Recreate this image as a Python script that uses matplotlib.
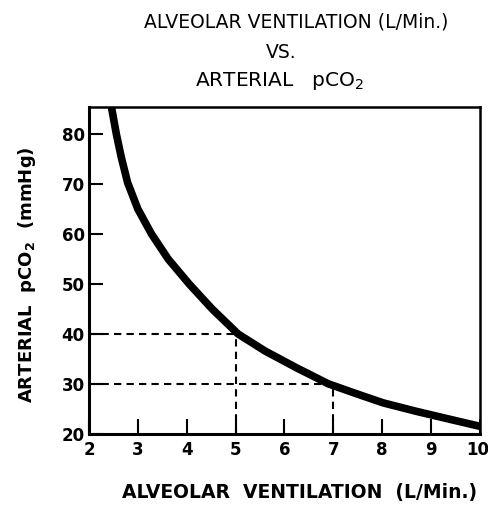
import numpy as np
import matplotlib.pyplot as plt
from matplotlib.transforms import ScaledTranslation

# values
ventilation = [2.46, 2.56, 2.66, 2.79, 3.00, 3.28, 3.62, 4.05, 4.52, 5.05,
               5.60, 6.25, 6.90, 7.54, 8.02, 8.70, 9.39, 10.0]
pco2 = [85.4, 80.0, 75.4, 70.3, 65.0, 60.0, 55.0, 50.0, 45.0, 40.0,
        36.6, 33.2, 30.0, 27.8, 26.2, 24.5, 22.9, 21.5]

ref_vent = [5, 7]
ref_pco2 = [40, 30]

x_ticks = [2, 3, 4, 5, 6, 7, 8, 9, 10]
y_ticks = [20, 30, 40, 50, 60, 70, 80]

title_lines = ["ALVEOLAR VENTILATION (L/Min.)", "VS.", "ARTERIAL   pCO$_2$"]
x_label = "ALVEOLAR  VENTILATION  (L/Min.)"
y_label = "ARTERIAL  pCO$_\\mathbf{2}$  (mmHg)"

fig = plt.figure(figsize=(4.89, 5.08), dpi=100)
ax = fig.add_axes([0.182, 0.146, 0.7995, 0.643])

ax.plot(ventilation, pco2, color="black", linewidth=5.5,
        solid_capstyle="butt", solid_joinstyle="round")

# dashed guide lines
for v, p in zip(ref_vent, ref_pco2):
    ax.plot([2, v], [p, p], color="black", linewidth=1.5, dashes=(3.5, 2.5))
    ax.plot([v, v], [20, p], color="black", linewidth=1.5, dashes=(3.5, 2.5))

ax.set_xlim(2, 10)
ax.set_ylim(20, 85.4)
ax.set_xticks(x_ticks)
ax.set_yticks(y_ticks)
ax.set_xticklabels([str(t) for t in x_ticks], fontsize=12, fontweight="bold")
ax.set_yticklabels([str(t) for t in y_ticks], fontsize=12, fontweight="bold")
ax.tick_params(axis="x", direction="in", length=11, width=1.5, pad=5)
ax.tick_params(axis="y", direction="in", length=10, width=1.5, pad=3)

last = ax.get_xticklabels()[-1]
last.set_horizontalalignment("right")
last.set_transform(last.get_transform() + ScaledTranslation(7 / 72, 0, fig.dpi_scale_trans))

for side in ["left", "bottom"]:
    ax.spines[side].set_linewidth(2.2)
for side in ["top", "right"]:
    ax.spines[side].set_linewidth(1.8)

fig.text(0.605, 0.945, title_lines[0], fontsize=13.5, ha="center", va="baseline")
fig.text(0.575, 0.886, title_lines[1], fontsize=13.5, ha="center", va="baseline")
fig.text(0.572, 0.831, title_lines[2], fontsize=14.5, ha="center", va="baseline")

fig.text(0.613, 0.02, x_label, fontsize=13.5, fontweight="bold", ha="center", va="baseline")
fig.text(0.078, 0.46, y_label, fontsize=13, fontweight="bold",
         ha="right", va="center", rotation=90)

fig.savefig("out.png", dpi=100)
